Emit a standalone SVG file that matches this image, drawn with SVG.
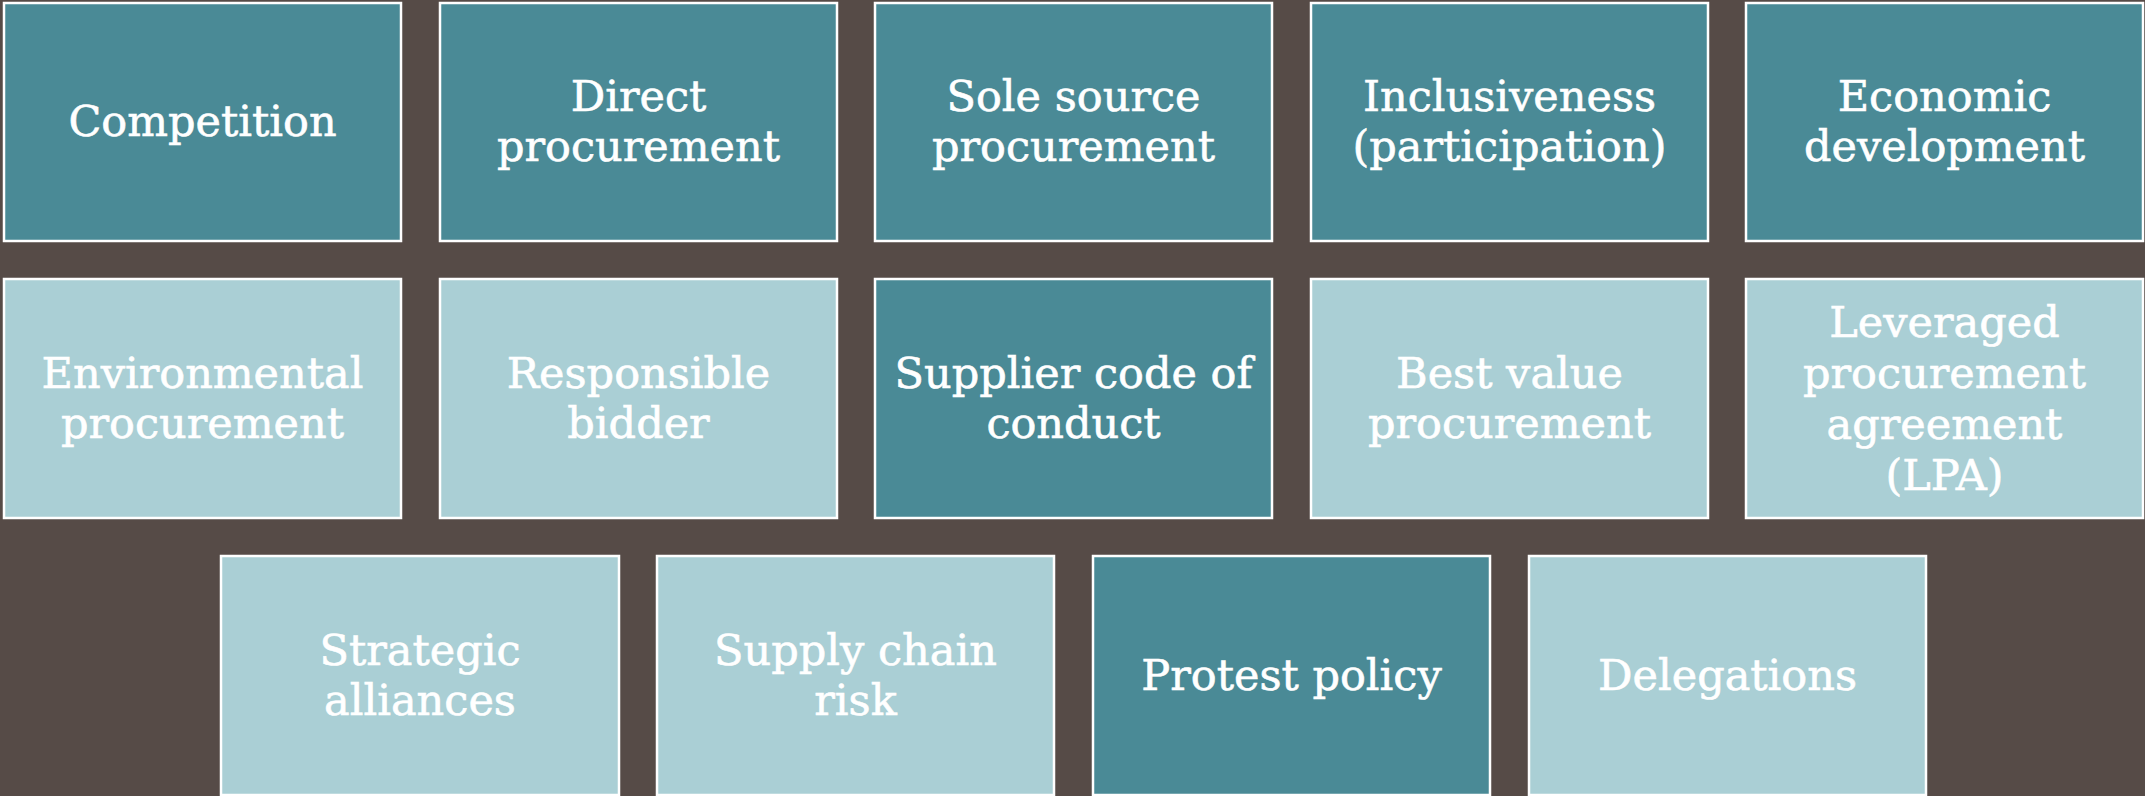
<svg xmlns="http://www.w3.org/2000/svg" width="2145" height="796" viewBox="0 0 2145 796">
<style>
.bg{fill:#564B47}
.dk{fill:#4A8A96;stroke:#FFFFFF;stroke-width:2.5}
.lt{fill:#AACFD5;stroke:#FFFFFF;stroke-width:2.5}
text{font-family:"DejaVu Serif","Liberation Serif",serif;font-size:43px;fill:#FFFFFF;stroke:#FFFFFF;stroke-width:0.6;text-anchor:middle}
</style>
<rect class="bg" x="0" y="0" width="2145" height="796"/>
<g id="n1"><rect class="dk" x="4" y="3" width="397" height="238"/><text x="202.5" y="136">Competition</text></g>
<g id="n2"><rect class="dk" x="440" y="3" width="397" height="238"/><text x="638.5" y="111">Direct</text><text x="638.5" y="161">procurement</text></g>
<g id="n3"><rect class="dk" x="875" y="3" width="397" height="238"/><text x="1073.5" y="111">Sole source</text><text x="1073.5" y="161">procurement</text></g>
<g id="n4"><rect class="dk" x="1311" y="3" width="397" height="238"/><text x="1509.5" y="111">Inclusiveness</text><text x="1509.5" y="161">(participation)</text></g>
<g id="n5"><rect class="dk" x="1746" y="3" width="397" height="238"/><text x="1944.5" y="111">Economic</text><text x="1944.5" y="161">development</text></g>
<g id="n6"><rect class="lt" x="4" y="279" width="397" height="239"/><text x="202.5" y="388">Environmental</text><text x="202.5" y="438">procurement</text></g>
<g id="n7"><rect class="lt" x="440" y="279" width="397" height="239"/><text x="638.5" y="388">Responsible</text><text x="638.5" y="438">bidder</text></g>
<g id="n8"><rect class="dk" x="875" y="279" width="397" height="239"/><text x="1073.5" y="388">Supplier code of</text><text x="1073.5" y="438">conduct</text></g>
<g id="n9"><rect class="lt" x="1311" y="279" width="397" height="239"/><text x="1509.5" y="388">Best value</text><text x="1509.5" y="438">procurement</text></g>
<g id="n10"><rect class="lt" x="1746" y="279" width="397" height="239"/><text x="1944.5" y="337">Leveraged</text><text x="1944.5" y="388">procurement</text><text x="1944.5" y="439">agreement</text><text x="1944.5" y="490">(LPA)</text></g>
<g id="n11"><rect class="lt" x="221" y="556" width="398" height="239"/><text x="420" y="665">Strategic</text><text x="420" y="715">alliances</text></g>
<g id="n12"><rect class="lt" x="657" y="556" width="397" height="239"/><text x="855.5" y="665">Supply chain</text><text x="855.5" y="715">risk</text></g>
<g id="n13"><rect class="dk" x="1093" y="556" width="397" height="239"/><text x="1291.5" y="690">Protest policy</text></g>
<g id="n14"><rect class="lt" x="1529" y="556" width="397" height="239"/><text x="1727.5" y="690">Delegations</text></g>
<g id="connectors"></g>
</svg>
